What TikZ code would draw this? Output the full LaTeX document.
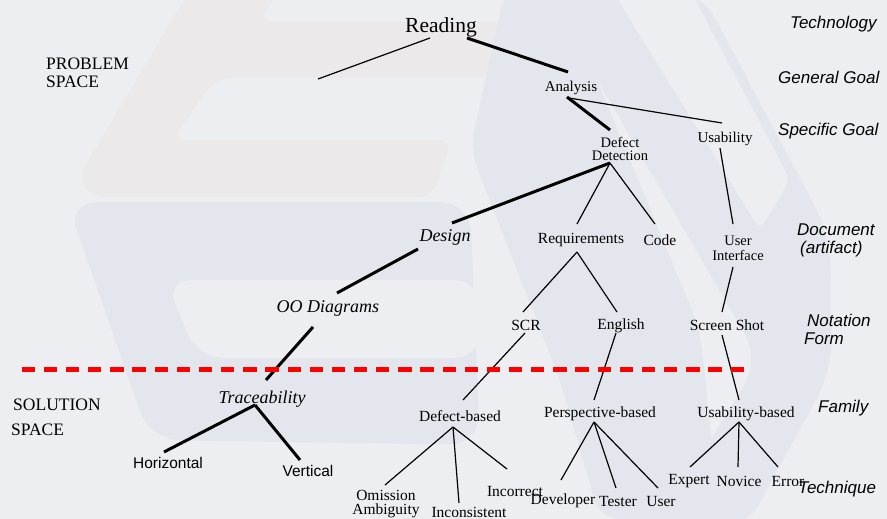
\documentclass[tikz,border=0pt]{standalone}
\usepackage{fontspec}
\setmainfont{Liberation Serif}
\newfontfamily\arialfont{Liberation Sans}
\definecolor{paper}{RGB}{237,238,242}
\definecolor{wmblue}{RGB}{227,231,237}
\definecolor{wmbeige}{RGB}{235,233,233}
\definecolor{cutred}{RGB}{255,0,0}
\begin{document}
\begin{tikzpicture}[x=1pt,y=-1pt,
  lbl/.style={inner sep=0pt, align=center, font=\fontsize{15.5}{13}\selectfont},
  lblit/.style={inner sep=0pt, font=\itshape\fontsize{18}{20}\selectfont},
  lblsans/.style={inner sep=0pt, font=\arialfont\fontsize{15.5}{17}\selectfont},
  level/.style={inner sep=0pt, anchor=west, align=left, font=\arialfont\itshape\fontsize{17}{19}\selectfont},
  space/.style={inner sep=0pt, anchor=west, align=left},
  thinedge/.style={line width=1.2pt, black},
  thickedge/.style={line width=3pt, black},
  cutline/.style={cutred, line width=4.3pt, dash pattern=on 13.3pt off 8.85pt}]
\useasboundingbox (0,0) rectangle (887,519);
\fill[paper] (0,0) rectangle (887,519);

% faint logo watermark
\fill[wmbeige, rounded corners=14] (196,-20) -- (286,-20) -- (259,22) -- (535,22) -- (500,78) -- (216,78) -- (172,140) -- (452,140) -- (432,197) -- (92,197) -- (78,178) -- cycle;
\fill[wmblue, rounded corners=30] (67,202) -- (470,202) -- (480,445) -- (150,440) -- cycle;
\fill[paper, rounded corners=26] (165,280) -- (480,280) -- (480,358) -- (198,358) -- cycle;
\fill[wmblue, rounded corners=20] (505,-10) -- (560,-10) -- (700,330) -- (720,519) -- (600,519) -- (560,380) -- (470,150) -- cycle;
\fill[wmblue, rounded corners=30] (545,-10) -- (700,-10) -- (830,235) -- (832,370) -- (745,530) -- (655,530) -- (760,360) -- cycle;
\fill[paper, rounded corners=10] (612,-10) -- (690,-10) -- (790,180) -- (760,230) -- cycle;

% level captions
\node[level] (lTech) at (790,24) {Technology};
\node[level] (lGen) at (778,77) {General Goal};
\node[level] (lSpec) at (778,131) {Specific Goal};
\node[level, font=\arialfont\itshape\fontsize{17}{18}\selectfont] (lDoc) at (797,240) {Document\\\hspace*{3pt}(artifact)};
\node[level, font=\arialfont\itshape\fontsize{17}{18}\selectfont] (lNot) at (804,329) {\hspace*{3pt}Notation\\Form};
\node[level] (lFam) at (818,408) {Family};
\node[level] (lTechn) at (798,489) {Technique};

% problem / solution space
\node[space, font=\fontsize{17.5}{18}\selectfont] (prob) at (46,73) {PROBLEM\\SPACE};
\node[space, font=\fontsize{17.5}{25}\selectfont] (sol) at (11,417) {\hspace*{2pt}SOLUTION\\SPACE};

% tree nodes
\node[inner sep=0pt, font=\fontsize{21.5}{24}\selectfont] (read) at (441,27) {Reading};
\coordinate (readL) at (318,79);
\node[lbl, font=\fontsize{15}{13}\selectfont] (ana) at (571,88) {Analysis};
\node[lbl, font=\fontsize{14.5}{13.2}\selectfont] (dd) at (620,149) {Defect\\Detection};
\node[lbl, font=\fontsize{15}{13}\selectfont] (usa) at (725,139) {Usability};
\node[lblit] (design) at (445,237) {Design};
\node[lbl] (req) at (581,240) {Requirements};
\node[lbl] (code) at (660,240) {Code};
\node[lbl, font=\fontsize{14.5}{15}\selectfont] (ui) at (738,248) {User\\Interface};
\node[lblit] (oo) at (328,308) {OO Diagrams};
\node[lbl] (scr) at (526,325) {SCR};
\node[lbl] (eng) at (621,326) {English};
\node[lbl] (ss) at (727,325) {Screen Shot};
\node[lblit] (trace) at (262,399) {Traceability};
\node[lbl] (db) at (460,416) {Defect-based};
\node[lbl] (pb) at (600,414) {Perspective-based};
\node[lbl] (ub) at (746,414) {Usability-based};
\node[lblsans] (hor) at (168,463) {Horizontal};
\node[lblsans] (ver) at (308,471) {Vertical};
\node[lbl, font=\fontsize{15.5}{14}\selectfont] (om) at (386,504) {Omission\\Ambiguity};
\node[lbl] (inc) at (469,512) {Inconsistent};
\node[lbl] (incor) at (515,491) {Incorrect};
\node[lbl] (dev) at (563,501) {Developer};
\node[lbl] (tes) at (618,501) {Tester};
\node[lbl] (usr) at (661,501) {User};
\node[lbl] (exp) at (689,481) {Expert};
\node[lbl] (nov) at (739,481) {Novice};
\node[lbl] (err) at (788,481) {Error};

% problem space edges
\draw[thinedge] ([shift={(-11,11)}]read.center) -- (readL);
\draw[thickedge] ([shift={(26,11)}]read.center) -- ([shift={(-3,-16)}]ana.center);
\draw[thickedge] ([shift={(-4,9)}]ana.center) -- ([shift={(-10,-19)}]dd.center);
\draw[thinedge] ([shift={(-2,10)}]ana.center) -- ([shift={(-3,-16)}]usa.center);
\draw[thickedge] ([shift={(-10,14)}]dd.center) -- ([shift={(7,-14)}]design.center);
\draw[thinedge] ([shift={(-10,14)}]dd.center) -- ([shift={(-4,-16)}]req.center);
\draw[thinedge] ([shift={(-10,14)}]dd.center) -- ([shift={(-5,-16)}]code.center);
\draw[thinedge] ([shift={(-5,9)}]usa.center) -- ([shift={(-5,-24)}]ui.center);
\draw[thickedge] ([shift={(-27,12)}]design.center) -- ([shift={(9,-15)}]oo.center);
\draw[thinedge] ([shift={(-4,12)}]req.center) -- ([shift={(-3,-13)}]scr.center);
\draw[thinedge] ([shift={(-4,12)}]req.center) -- ([shift={(-4,-14)}]eng.center);
\draw[thinedge] ([shift={(-5,19)}]ui.center) -- ([shift={(-5,-13)}]ss.center);

% solution space edges
\draw[thickedge] ([shift={(-15,19)}]oo.center) -- ([shift={(4,-19)}]trace.center);
\draw[thinedge] ([shift={(-1,8)}]scr.center) -- ([shift={(3,-16)}]db.center);
\draw[thinedge] ([shift={(-5,7)}]eng.center) -- ([shift={(-6,-14)}]pb.center);
\draw[thinedge] ([shift={(-5,10)}]ss.center) -- ([shift={(-7,-14)}]ub.center);
\draw[thickedge] ([shift={(-7,6)}]trace.center) -- ([shift={(-4,-11)}]hor.center);
\draw[thickedge] ([shift={(-7,6)}]trace.center) -- ([shift={(-8,-11)}]ver.center);
\draw[thinedge] ([shift={(-7,11)}]db.center) -- ([shift={(-1,-19)}]om.center);
\draw[thinedge] ([shift={(-7,11)}]db.center) -- ([shift={(-10,-9)}]inc.center);
\draw[thinedge] ([shift={(-7,11)}]db.center) -- ([shift={(-8,-22)}]incor.center);
\draw[thinedge] ([shift={(-6,8)}]pb.center) -- ([shift={(-2,-21)}]dev.center);
\draw[thinedge] ([shift={(-6,8)}]pb.center) -- ([shift={(-2,-13)}]tes.center);
\draw[thinedge] ([shift={(-6,8)}]pb.center) -- ([shift={(-3,-13)}]usr.center);
\draw[thinedge] ([shift={(-7,8)}]ub.center) -- ([shift={(1,-14)}]exp.center);
\draw[thinedge] ([shift={(-7,8)}]ub.center) -- ([shift={(-1,-14)}]nov.center);
\draw[thinedge] ([shift={(-7,8)}]ub.center) -- ([shift={(-10,-14)}]err.center);

% boundary between problem and solution space
\coordinate (cutL) at (21.7,369.5);
\coordinate (cutR) at (744,369.5);
\draw[cutline] (cutL) -- (cutR);
\end{tikzpicture}
\end{document}
